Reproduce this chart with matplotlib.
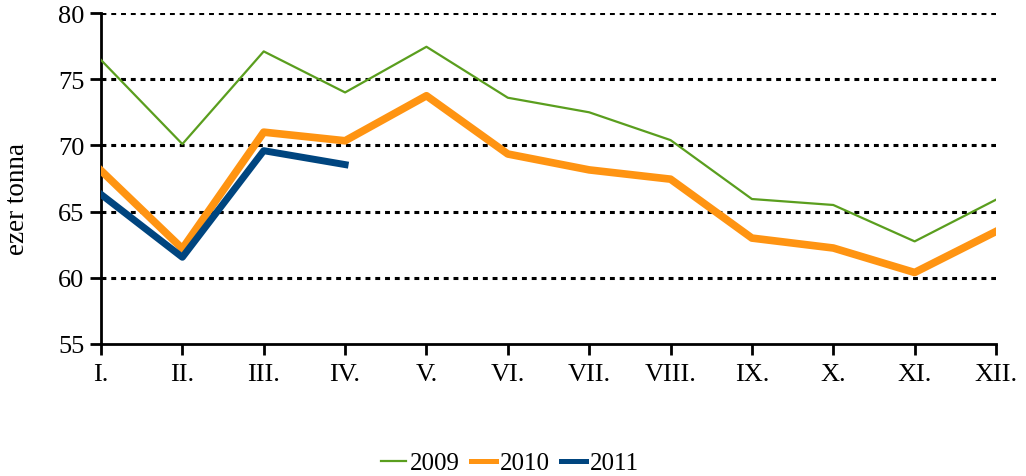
import matplotlib
matplotlib.use("Agg")
import matplotlib.pyplot as plt

months = ["I.", "II.", "III.", "IV.", "V.", "VI.", "VII.", "VIII.", "IX.", "X.", "XI.", "XII."]
y2009 = [76.45, 70.1, 77.1, 74.0, 77.45, 73.6, 72.5, 70.4, 65.95, 65.5, 62.75, 65.9]
y2010 = [68.1, 62.2, 71.0, 70.35, 73.75, 69.35, 68.15, 67.45, 63.0, 62.25, 60.4, 63.5]
y2011 = [66.3, 61.55, 69.6, 68.55]
yticks = [55, 60, 65, 70, 75, 80]

plt.rcParams['font.family'] = ['Liberation Serif', 'DejaVu Serif']

fig = plt.figure(figsize=(10.26, 4.77), dpi=100)
ax = fig.add_axes([101/1026, 1-345/477, (996-101)/1026, (345-14)/477])

x = list(range(len(months)))
for v in yticks[1:]:
    ax.axhline(v, color='black', lw=2.2, linestyle=(0, (1.6, 1.6)), zorder=1)

ax.plot(x, y2009, color='#5a9e1e', lw=1.6, label='2009', zorder=3)
ax.plot(x, y2010, color='#ff9412', lw=5.5, label='2010', zorder=3)
ax.plot(x[:len(y2011)], y2011, color='#00457f', lw=5, label='2011', zorder=4)

ax.set_xlim(0, 11)
ax.set_ylim(55, 80)
ax.set_xticks(x)
ax.set_xticklabels(months)
ax.set_yticks(yticks)
ax.tick_params(axis='both', labelsize=19, width=2, length=8, direction='out', colors='black')
ax.tick_params(axis='x', pad=6)
ax.tick_params(axis='y', pad=4)
for s in ['top', 'right']:
    ax.spines[s].set_visible(False)
for s in ['left', 'bottom']:
    ax.spines[s].set_linewidth(2)
    ax.spines[s].set_color('black')
ax.set_ylabel('ezer tonna', fontsize=19.5, va='center')
ax.yaxis.set_label_coords(-0.093, 0.44)

leg = fig.legend(loc='center', bbox_to_anchor=(0.497, 1-464/477), ncol=3, frameon=False,
                 fontsize=18, handlelength=1.0, columnspacing=0.45, handletextpad=0.15)
for ln, w in zip(leg.get_lines(), [1.6, 3.6, 3.6]):
    ln.set_linewidth(w)

fig.savefig('out.png', dpi=100)
